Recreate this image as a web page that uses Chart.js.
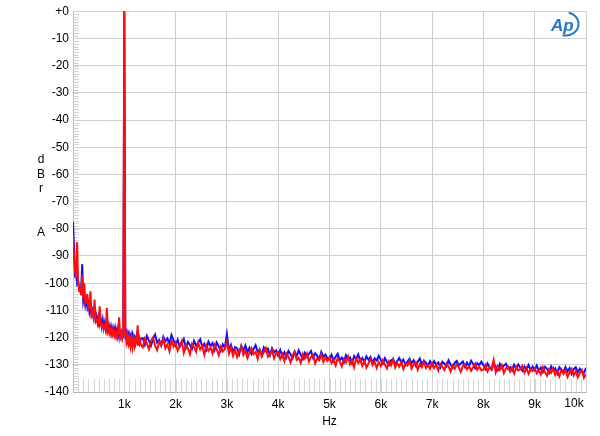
<!DOCTYPE html>
<html>
<head>
<meta charset="utf-8">
<script src="https://cdn.jsdelivr.net/npm/chart.js@4.4.1/dist/chart.umd.min.js"></script>
<style>
  html, body { margin: 0; padding: 0; background: #fff; }
  #wrap { width: 600px; height: 436px; }
</style>
</head>
<body>
<div id="wrap"><canvas id="fftChart" width="600" height="436"></canvas></div>
<script>
// frequency bins (Hz)
const freqHz = [
  0,20,40,60,80,100,120,140,160,180,200,220,240,260,280,300,320,340,360,380,
  400,420,440,460,480,500,520,540,560,580,600,620,640,660,680,700,720,740,760,780,
  800,820,840,860,880,900,920,940,960,980,1000,1020,1040,1060,1080,1100,1120,1140,1160,1180,
  1200,1220,1240,1260,1280,1300,1320,
  1360,1400,1440,1480,1520,1560,1600,1640,1680,1720,1760,1800,1840,1880,1920,1960,
  2000,2040,2080,2120,2160,2200,2240,2280,2320,2360,2400,2440,2480,2520,2560,2600,2640,2680,2720,2760,2800,2840,2880,2920,2960,
  3000,3040,3080,3120,3160,3200,3240,3280,3320,3360,3400,3440,3480,3520,3560,3600,3640,3680,3720,3760,3800,3840,3880,3920,3960,
  4000,4040,4080,4120,4160,4200,4240,4280,4320,4360,4400,4440,4480,4520,4560,4600,4640,4680,4720,4760,4800,4840,4880,4920,4960,
  5000,5040,5080,5120,5160,5200,5240,5280,5320,5360,5400,5440,5480,5520,5560,5600,5640,5680,5720,5760,5800,5840,5880,5920,5960,
  6000,6040,6080,6120,6160,6200,6240,6280,6320,6360,6400,6440,6480,6520,6560,6600,6640,6680,6720,6760,6800,6840,6880,6920,6960,
  7000,7040,7080,7120,7160,7200,7240,7280,7320,7360,7400,7440,7480,7520,7560,7600,7640,7680,7720,7760,7800,7840,7880,7920,7960,
  8000,8040,8080,8120,8160,8200,8240,8280,8320,8360,8400,8440,8480,8520,8560,8600,8640,8680,8720,8760,8800,8840,8880,8920,8960,
  9000,9040,9080,9120,9160,9200,9240,9280,9320,9360,9400,9440,9480,9520,9560,9600,9640,9680,9720,9760,9800,9840,9880,9920,9960,10000
];

// red trace (dBr A)
const redDb = [
  -82,-91,-95,-98,-85,-100,-102.5,-102,-104.5,-97,-105.5,-100,-107.5,-107,-104,-109.5,-109,-103,-111.5,-110.5,
  -112.5,-106,-112.5,-114,-113.5,-115,-108.5,-114.5,-116,-115,-116.5,-115.5,-117,-109,-116.5,-118,-116.5,-118.5,-117,-119,
  -117.5,-119.5,-118,-120,-118,-112.5,-120,-118.5,-120.5,-119,0,-118,-121.5,-119,-122,-119.5,-123,-120,-123.5,-120.5,
  -123,-120.5,-121.5,-115.5,-123,-120.5,-122.5,
  -123.6,-120.4,-122.1,-124.3,-121.2,-119.9,-123.0,-124.6,-121.5,-122.8,-120.6,-123.9,-122.4,-125.0,-121.0,-123.3,
  -121.9,-124.8,-123.2,-121.3,-125.6,-122.7,-124.0,-126.1,-122.3,-123.5,-125.2,-121.8,-124.4,-123.1,-126.3,-122.9,-124.9,-123.6,-125.8,-122.6,-124.2,-126.5,-123.4,-125.1,-124.0,
  -121.5,-125.9,-123.6,-126.7,-124.4,-127.2,-125.0,-123.2,-126.4,-124.8,-127.5,-125.6,-123.9,-126.1,-125.3,-127.8,-124.5,-126.9,-125.2,-123.8,-127.0,-126.2,-124.7,-127.6,-125.8,
  -125.3,-127.9,-126.1,-128.6,-125.8,-127.0,-129.1,-126.5,-125.2,-128.2,-127.4,-129.3,-126.0,-127.7,-125.9,-128.8,-127.1,-126.4,-129.5,-127.6,-128.3,-126.2,-129.0,-127.3,-128.5,
  -127.2,-129.4,-128.1,-130.2,-127.5,-128.8,-130.6,-127.9,-129.1,-126.9,-129.8,-128.4,-130.9,-127.6,-129.3,-128.0,-130.4,-128.7,-131.0,-129.5,-127.8,-130.1,-128.9,-131.2,-129.0,
  -130.5,-128.3,-129.9,-131.3,-128.7,-130.2,-128.0,-131.0,-129.4,-130.7,-128.9,-131.6,-129.6,-130.3,-128.5,-131.4,-130.0,-129.1,-131.8,-129.8,-130.9,-128.8,-131.2,-130.1,-131.5,
  -129.4,-131.2,-130.0,-132.1,-129.7,-130.8,-131.9,-129.5,-130.6,-132.4,-130.2,-131.5,-129.8,-131.0,-132.6,-130.4,-129.9,-131.7,-130.5,-132.2,-130.9,-129.6,-131.8,-130.7,-132.0,
  -131.8,-130.1,-132.4,-130.9,-131.5,-128.2,-132.8,-130.6,-131.9,-130.2,-133.0,-131.3,-130.7,-132.5,-131.0,-133.2,-130.8,-132.1,-131.6,-130.4,-132.9,-131.2,-133.3,-131.7,-132.3,
  -131.4,-133.1,-131.9,-133.6,-130.9,-132.6,-134.0,-131.6,-132.9,-131.2,-133.8,-132.3,-134.3,-131.8,-133.3,-132.0,-134.5,-132.7,-131.5,-133.9,-132.4,-134.6,-133.0,-131.9,-134.8,-133.4
];

// blue trace (dBr A)
const blueDb = [
  -77.5,-87,-97,-96.5,-100,-99,-102,-103,-101.5,-93,-106.5,-104.5,-108,-106,-109,-107.5,-110.5,-108.5,-111.5,-110,
  -112.5,-110.5,-113.5,-112,-114.5,-112.5,-115,-113.5,-116,-113.5,-116.5,-114.5,-117,-115,-117.5,-115.5,-118,-116,-118.5,-116.5,
  -118.5,-116.5,-119,-117,-119.5,-117.5,-119.5,-118,-120,-118,0,-120.5,-118.5,-121,-119,-121.5,-119.5,-121,-119,-121.5,
  -120,-122,-119.5,-121.5,-120,-122,-120.5,
  -120.2,-122.6,-119.4,-121.1,-123.0,-120.5,-118.9,-121.8,-120.9,-122.9,-119.7,-121.4,-120.3,-122.2,-119.1,-121.0,
  -122.9,-120.8,-123.4,-122.1,-120.5,-123.8,-121.6,-122.7,-124.2,-121.2,-123.0,-121.9,-120.6,-123.5,-122.3,-124.4,-121.5,-123.1,-122.0,-124.6,-121.8,-123.2,-124.9,-122.5,-123.7,
  -118.7,-124.6,-122.7,-125.4,-123.5,-124.0,-126.1,-123.0,-124.8,-122.9,-125.3,-123.8,-126.0,-124.3,-122.8,-125.1,-124.5,-126.4,-123.6,-125.0,-124.1,-126.5,-123.9,-125.5,-124.7,
  -126.6,-124.6,-126.9,-125.4,-127.3,-124.9,-126.1,-127.6,-125.2,-126.8,-124.7,-126.3,-127.9,-125.6,-127.1,-126.0,-124.9,-127.4,-125.8,-126.6,-128.0,-125.3,-127.0,-126.2,-127.7,
  -128.0,-126.3,-128.6,-127.0,-125.9,-128.3,-127.4,-129.1,-126.5,-128.0,-127.3,-129.4,-126.8,-127.9,-126.2,-128.7,-127.5,-129.0,-126.9,-128.2,-127.1,-129.3,-127.6,-128.5,-126.7,
  -128.2,-129.6,-127.6,-129.0,-130.1,-128.4,-127.9,-129.8,-128.6,-127.5,-129.3,-128.1,-130.0,-128.8,-127.8,-129.5,-128.3,-130.3,-128.9,-127.7,-129.9,-128.5,-129.2,-130.4,-128.7,
  -130.3,-128.7,-130.0,-129.1,-131.0,-128.9,-129.6,-130.6,-128.4,-129.9,-131.1,-129.3,-128.6,-130.2,-129.5,-128.8,-130.8,-129.2,-130.5,-128.5,-129.7,-131.2,-129.4,-130.1,-128.9,
  -130.2,-131.6,-129.5,-130.9,-131.8,-129.8,-130.5,-132.0,-129.7,-131.2,-130.3,-129.6,-131.5,-130.8,-132.1,-130.0,-131.4,-129.9,-131.1,-132.2,-130.6,-131.7,-130.1,-131.9,-130.7,
  -131.9,-130.3,-132.2,-131.0,-132.6,-130.7,-131.5,-133.0,-130.6,-132.0,-131.3,-133.2,-130.9,-131.8,-132.7,-130.8,-132.4,-131.2,-133.3,-131.6,-130.9,-132.8,-131.4,-132.5,-133.0,-131.1
];

const yTitle = ['d', 'B', 'r', '', '', 'A'];
const gridColor = '#cfcfcf';

function toPoints(vals) {
    return freqHz.map((f, i) => ({ x: f, y: vals[i] }));
}

// minor ticks, stacked y title, 10k label and logo
const extras = {
    id: 'extras',
    beforeDatasetsDraw(chart) {
        const ctx = chart.ctx;
        const xs = chart.scales.x;
        const ys = chart.scales.y;
        const left = xs.getPixelForValue(0);
        const bottom = ys.getPixelForValue(-140);
        ctx.save();
        ctx.strokeStyle = '#d4d4d4';
        ctx.lineWidth = 1;
        ctx.beginPath();
        for (let v = -139; v < 0; v++) {
            const py = Math.round(ys.getPixelForValue(v)) + 0.5;
            ctx.moveTo(left, py);
            ctx.lineTo(left + 6, py);
        }
        const tickTop = ys.getPixelForValue(-135.3);
        for (let f = 100; f < 10000; f += 100) {
            const px = Math.round(xs.getPixelForValue(f)) + 0.5;
            ctx.moveTo(px, bottom);
            ctx.lineTo(px, tickTop);
        }
        ctx.stroke();
        ctx.restore();
    },
    afterDraw(chart) {
        const ctx = chart.ctx;
        const xs = chart.scales.x;
        const ys = chart.scales.y;
        ctx.save();
        ctx.fillStyle = '#000';
        ctx.font = '12px "Liberation Sans", Arial, sans-serif';
        ctx.textAlign = 'center';
        ctx.textBaseline = 'middle';
        yTitle.forEach((ch, i) => {
            ctx.fillText(ch, 41, 160 + i * 14.5);
        });
        ctx.textBaseline = 'top';
        ctx.fillText('10k', xs.getPixelForValue(10000) - 12, ys.getPixelForValue(-140) + 6);

        // Ap logo
        ctx.fillStyle = '#2677c5';
        ctx.strokeStyle = '#2677c5';
        ctx.font = 'italic bold 17px "Liberation Sans", Arial, sans-serif';
        ctx.textAlign = 'left';
        ctx.textBaseline = 'alphabetic';
        ctx.fillText('Ap', 551, 31);
        ctx.lineWidth = 2;
        ctx.beginPath();
        ctx.ellipse(566, 24, 12.5, 11.5, 0, -1.35, 1.85);
        ctx.stroke();
        ctx.restore();
    }
};

const ctx = document.getElementById('fftChart').getContext('2d');
const fftChart = new Chart(ctx, {
    type: 'line',
    data: {
        datasets: [
            { label: 'Right', data: toPoints(redDb), borderColor: '#ff0d0d', borderWidth: 2, pointRadius: 0, tension: 0 },
            { label: 'Left', data: toPoints(blueDb), borderColor: '#1010ff', borderWidth: 2, pointRadius: 0, tension: 0 }
        ]
    },
    options: {
        responsive: false,
        animation: false,
        layout: { padding: { top: 11, right: 14, left: 0, bottom: 0 } },
        plugins: { legend: { display: false }, tooltip: { enabled: false } },
        scales: {
            x: {
                type: 'linear',
                min: 0,
                max: 10000,
                afterFit(scale) { scale.height = 44; },
                ticks: {
                    stepSize: 1000,
                    maxRotation: 0,
                    padding: 5,
                    color: '#000',
                    font: { family: '"Liberation Sans", Arial, sans-serif', size: 12 },
                    callback: v => (v === 0 || v === 10000) ? '' : (v / 1000) + 'k'
                },
                grid: { color: gridColor, drawTicks: false },
                border: { color: '#b5b5b5' },
                title: {
                    display: true,
                    text: 'Hz',
                    color: '#000',
                    font: { family: '"Liberation Sans", Arial, sans-serif', size: 12 },
                    padding: { top: 0, bottom: 7 }
                }
            },
            y: {
                min: -140,
                max: 0,
                afterFit(scale) { scale.width = 73; },
                ticks: {
                    stepSize: 10,
                    padding: 4,
                    color: '#000',
                    font: { family: '"Liberation Sans", Arial, sans-serif', size: 12 },
                    callback: v => v === 0 ? '+0' : String(v)
                },
                grid: { color: gridColor, drawTicks: false },
                border: { color: '#b5b5b5' }
            }
        }
    },
    plugins: [extras]
});
</script>
</body>
</html>
